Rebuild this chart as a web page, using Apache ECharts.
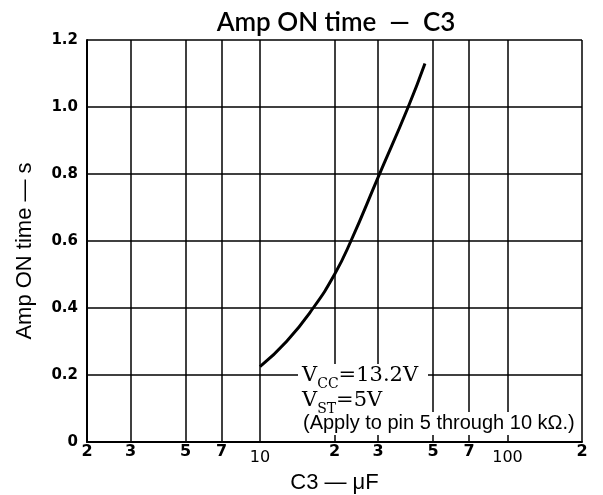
<!DOCTYPE html>
<html>
<head>
  <meta charset="utf-8">
  <title>Amp ON time - C3</title>
  <script src="https://cdn.jsdelivr.net/npm/echarts@6/dist/echarts.min.js"></script>
  <style>
    html, body {
      margin: 0;
      padding: 0;
      background-color: #fff;
    }

    #amp_time_echart {
      width: 603px;
      height: 495px;
    }
  </style>
</head>
<body>
<div id="amp_time_echart"></div>
<script>
  // C3 (uF) on a log axis, Amp ON time (s)
  var capValues = [10, 12.8, 16.4, 20, 23.3, 30, 39.7, 46.4]
  var onTimes = [0.225, 0.30, 0.40, 0.50, 0.60, 0.79, 1.0, 1.13]

  // tick positions and the labels printed under them
  var xTickValues = [2, 3, 5, 7, 10, 20, 30, 50, 70, 100, 200]
  var xTickLabels = ['2', '3', '5', '7', '10', '2', '3', '5', '7', '100', '2']

  //x label lookup
  function xLabel (val) {
    for (var i = 0; i < xTickValues.length; i++) {
      if (Math.abs(xTickValues[i] - val) < 1e-6 * xTickValues[i]) {
        var txt = xTickLabels[i]
        return txt.length > 1 ? '{thin|' + txt + '}' : '{bold|' + txt + '}'
      }
    }
    return ''
  }

  //chart
  function ampTimeEchart () {
    var myChart = echarts.init(document.getElementById('amp_time_echart'))
    var curve = capValues.map(function (c, i) {
      return [c, onTimes[i]]
    })
    var subStyle = {
      v: {fontFamily: 'DejaVu Serif', fontSize: 21, fill: '#000', verticalAlign: 'bottom'},
      s: {fontFamily: 'DejaVu Serif', fontSize: 14, fill: '#000', verticalAlign: 'bottom', padding: [0, 0, -5, 0]}
    }
    var option = {
      animation: false,
      title: {
        text: 'Amp ON time  \u2014  C3',
        left: 331,
        textAlign: 'center',
        top: 5,
        textStyle: {
          fontFamily: 'Lato',
          fontWeight: 600,
          fontSize: 26,
          color: '#000'
        }
      },
      grid: {
        left: 87,
        right: 21,
        top: 40,
        bottom: 53,
        outerBoundsMode: 'none'
      },
      xAxis: {
        type: 'log',
        logBase: 10,
        min: 2,
        max: 200,
        name: 'C3 \u2014 \u03bcF',
        nameLocation: 'middle',
        nameGap: 30,
        nameTextStyle: {
          fontFamily: 'Liberation Sans',
          fontSize: 22,
          color: '#000'
        },
        axisLine: {
          lineStyle: {color: '#000', width: 2}
        },
        axisTick: {
          show: false,
          customValues: xTickValues
        },
        axisLabel: {
          customValues: xTickValues,
          margin: 2,
          formatter: xLabel,
          rich: {
            bold: {
              fontFamily: 'DejaVu Sans',
              fontWeight: 'bold',
              fontSize: 16,
              color: '#000'
            },
            thin: {
              fontFamily: 'DejaVu Sans',
              fontSize: 16,
              color: '#000',
              padding: [6, 0, 0, 0]
            }
          }
        },
        splitLine: {
          show: true,
          lineStyle: {color: '#000', width: 1.5}
        }
      },
      yAxis: {
        type: 'value',
        min: 0,
        max: 1.2,
        interval: 0.2,
        axisLine: {
          show: true,
          lineStyle: {color: '#000', width: 2}
        },
        axisTick: {show: false},
        axisLabel: {
          margin: 9,
          fontFamily: 'DejaVu Sans',
          fontWeight: 'bold',
          fontSize: 15,
          color: '#000',
          formatter: function (v) {
            return v === 0 ? '0' : v.toFixed(1)
          }
        },
        splitLine: {
          show: true,
          lineStyle: {color: '#000', width: 1.5}
        }
      },
      graphic: [
        //y axis title, set by hand so it can sit a bit low like the original
        {
          type: 'text',
          x: 25,
          y: 251,
          rotation: Math.PI / 2,
          style: {
            text: 'Amp ON time \u2014 s',
            fontFamily: 'Liberation Sans',
            fontSize: 22,
            fill: '#000',
            align: 'center',
            verticalAlign: 'middle'
          }
        },
        {
          type: 'rect',
          shape: {x: 298, y: 364, width: 130, height: 48},
          style: {fill: '#fff'},
          z: 10
        },
        {
          type: 'rect',
          shape: {x: 296, y: 412, width: 284, height: 23},
          style: {fill: '#fff'},
          z: 10
        },
        {
          type: 'text',
          left: 302,
          top: 365,
          z: 11,
          style: {
            text: '{v|V}{s|CC}{v|=13.2V}',
            rich: subStyle
          }
        },
        {
          type: 'text',
          left: 302,
          top: 390,
          z: 11,
          style: {
            text: '{v|V}{s|ST}{v|=5V}',
            rich: subStyle
          }
        },
        {
          type: 'text',
          left: 303,
          top: 413,
          z: 11,
          style: {
            text: '(Apply to pin 5 through 10 k\u03a9.)',
            fontFamily: 'Liberation Sans',
            fontSize: 20,
            fill: '#000'
          }
        }
      ],
      series: [
        {
          name: 'Amp ON time',
          type: 'line',
          smooth: true,
          showSymbol: false,
          data: curve,
          lineStyle: {color: '#000', width: 3},
          z: 5
        }
      ]
    }
    myChart.setOption(option, true)
  }

  ampTimeEchart()
</script>
</body>
</html>
